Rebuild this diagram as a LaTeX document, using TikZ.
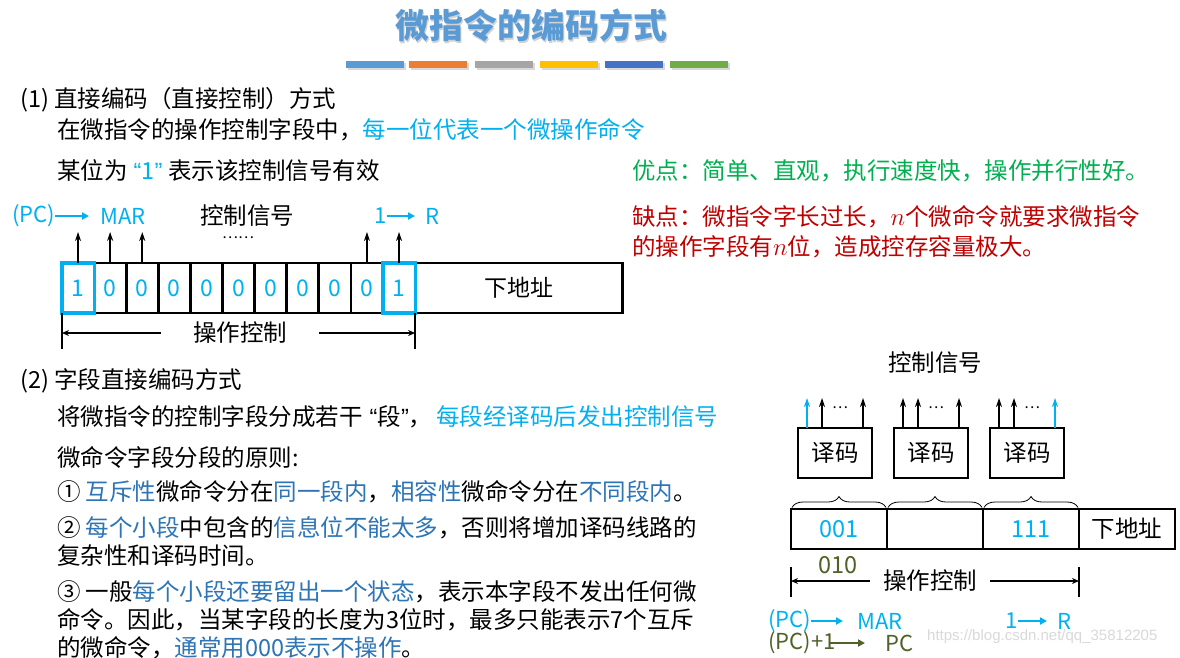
\documentclass[tikz,border=0pt]{standalone}
\usepackage{fontspec}
\setmainfont{Noto Sans CJK SC}
\newfontfamily\latinfont{Liberation Sans}
\usetikzlibrary{positioning, arrows.meta, calc, decorations.pathreplacing}
\definecolor{cyanblue}{HTML}{00B0F0}
\definecolor{deepblue}{HTML}{2E75B6}
\definecolor{titleblue}{HTML}{5B9BD5}
\definecolor{goodgreen}{HTML}{00B050}
\definecolor{badred}{HTML}{C00000}
\definecolor{olive}{HTML}{4F6228}
\definecolor{barA}{HTML}{5B9BD5}
\definecolor{barB}{HTML}{ED7D31}
\definecolor{barC}{HTML}{A5A5A5}
\definecolor{barD}{HTML}{FFC000}
\definecolor{barE}{HTML}{4472C4}
\definecolor{barF}{HTML}{70AD47}

\begin{document}
\begin{tikzpicture}[x=1pt, y=-1pt,
  txt/.style={anchor=west, inner sep=0pt, align=left, font=\fontsize{23.5}{28}\selectfont},
  lbl/.style={anchor=west, inner sep=0pt, text=cyanblue, font=\fontsize{22}{22}\selectfont},
  bit/.style={draw, line width=2.8pt, outer sep=0pt, inner sep=0pt, minimum width=32.1pt,
              minimum height=50pt, text=cyanblue, font=\fontsize{23}{23}\selectfont},
  selbox/.style={draw=cyanblue, line width=3.2pt},
  dec/.style={draw, line width=2.8pt, outer sep=0pt, minimum width=74pt, minimum height=50pt,
              font=\fontsize{23.5}{23.5}\selectfont},
  fld/.style={draw, line width=2.8pt, outer sep=0pt, inner sep=0pt, minimum width=96pt,
              minimum height=40pt, text=cyanblue, font=\fontsize{23.5}{23.5}\selectfont},
  sig/.style={-{Stealth[length=9pt, width=6pt]}, line width=1.7pt},
  carr/.style={-{Triangle[length=7pt, width=7pt]}, line width=2.6pt, color=cyanblue},
  tick/.style={line width=1.7pt},
  dimarr/.style={-{Stealth[length=7pt, width=6pt]}, line width=1.5pt},
  dimlbl/.style={inner ysep=0pt, font=\fontsize{23.5}{23.5}\selectfont},
  dotlbl/.style={inner sep=0pt, font=\fontsize{15}{15}\selectfont},
  brc/.style={decorate, decoration={brace, amplitude=11pt}, line width=0.8pt},
]
\fill[white] (0,0) rectangle (1180,657);
\useasboundingbox (0,0) rectangle (1180,657);

% Title and colour bars
\node[text=gray!35, font=\fontsize{34}{34}\selectfont\bfseries] at (532.5,27) {微指令的编码方式};
\node[text=titleblue, font=\fontsize{34}{34}\selectfont\bfseries] (title) at (531,25) {微指令的编码方式};
\foreach \x/\c in {346/barA, 409/barB, 475/barC, 540/barD, 605/barE, 670/barF} {
  \fill[gray!30] (\x+1.5,63) rectangle ++(58,7);
  \fill[\c] (\x,61) rectangle ++(58,7);
}

% (1) Direct coding
\node[txt] (h1) at (20,100) {(1) 直接编码（直接控制）方式};
\node[txt] (l1) at (57,130) {在微指令的操作控制字段中，\textcolor{cyanblue}{每一位代表一个微操作命令}};
\node[txt] (l2) at (57,171) {某位为\hspace{6pt}\textcolor{cyanblue}{{\latinfont“}1{\latinfont”}}\hspace{6pt}表示该控制信号有效};
\node[txt, text=goodgreen] (pro) at (632,171) {优点：简单、直观，执行速度快，操作并行性好。};
\node[txt, text=badred, font=\fontsize{23.5}{30}\selectfont] (con) at (632,232)
  {缺点：微指令字长过长，$n$个微命令就要求微指令\\的操作字段有$n$位，造成控存容量极大。};

% Control word, one bit per signal
\foreach \bitval [count=\i] in {1,0,0,0,0,0,0,0,0,0,1}
  \node[bit] (b\i) at ({78.05+(\i-1)*32.1},288) {\bitval};
\node[bit, minimum width=207pt, text=black, right=0pt of b11] (addr1) {下地址};
\foreach \i in {1,11}
  \draw[selbox] (b\i.south west) rectangle (b\i.north east);
\foreach \i in {1,2,3,10,11}
  \draw[sig] (b\i.north) -- ++(0,-31);

\node[lbl] (pcA) at (12,216) {(PC)};
\node[lbl] (marA) at (100,216) {MAR};
\draw[carr] (pcA.east) -- ([xshift=-11pt]marA.west);
\node[lbl] (oneA) at (374,216) {1};
\node[lbl] (rA) at (425,216) {R};
\draw[carr] (oneA.east) -- ([xshift=-10pt]rA.west);
\node[lbl, text=black, font=\fontsize{23.5}{23.5}\selectfont] (sigA) at (200,216) {控制信号};
\node[dotlbl, anchor=west] (dotsA) at (222,238) {……};

\draw[tick] (b1.south west) -- ++(0,36);
\draw[tick] (b11.south east) -- ++(0,36);
\node[dimlbl, inner xsep=32pt] (opA) at (240,333) {操作控制};
\draw[dimarr] (opA.west) -- (b1.south west |- opA.west);
\draw[dimarr] (opA.east) -- (b11.south east |- opA.east);

% (2) Field direct coding
\node[txt] (h2) at (20,381) {(2) 字段直接编码方式};
\node[txt] (s1) at (57,417) {将微指令的控制字段分成若干\hspace{7pt}{\latinfont“}段{\latinfont”}，\hspace{4pt}\textcolor{cyanblue}{每段经译码后发出控制信号}};
\node[txt] (s2) at (57,457) {微命令字段分段的原则:};
\node[txt] (r1) at (57,492) {① \textcolor{deepblue}{互斥性}微命令分在\textcolor{deepblue}{同一段内}，\textcolor{deepblue}{相容性}微命令分在\textcolor{deepblue}{不同段内}。};
\node[txt] (r2) at (57,541) {② \textcolor{deepblue}{每个小段}中包含的\textcolor{deepblue}{信息位不能太多}，否则将增加译码线路的\\复杂性和译码时间。};
\node[txt] (r3) at (57,620) {③ 一般\textcolor{deepblue}{每个小段还要留出一个状态}，表示本字段不发出任何微\\命令。因此，当某字段的长度为3位时，最多只能表示7个互斥\\的微命令，\textcolor{deepblue}{通常用000表示不操作}。};

% Decoders
\node[dimlbl] (sigB) at (935,363) {控制信号};
\node[dec] (d1) at (835,453) {译码};
\node[dec] (d2) at (931,453) {译码};
\node[dec] (d3) at (1027,453) {译码};
\foreach \k/\dx/\c in {1/-28/cyanblue, 1/-13/black, 1/28/black, 2/-28/black, 2/-13/black,
                       2/28/black, 3/-28/black, 3/-13/black, 3/28/cyanblue}
  \draw[sig, color=\c] ([xshift=\dx pt]d\k.north) -- ++(0,-30);
\foreach \k in {1,2,3}
  \node[dotlbl] (dt\k) at ($(d\k.north)+(5,-20)$) {…};

% Segmented control word
\node[fld] (f1) at (839,529) {001};
\node[fld, right=0pt of f1] (f2) {};
\node[fld, right=0pt of f2] (f3) {111};
\node[fld, right=0pt of f3, text=black] (f4) {下地址};
\foreach \k in {1,2,3}
  \draw[brc] ([xshift=1pt, yshift=1.5pt]f\k.north west) -- ([xshift=-1pt, yshift=1.5pt]f\k.north east);
\node[dimlbl, text=olive] (zA) at (838,565) {010};

\draw[tick] ([yshift=-18pt]f1.south west) -- ++(0,30);
\draw[tick] ([yshift=-18pt]f3.south east) -- ++(0,30);
\node[dimlbl, inner xsep=13pt] (opB) at (930,581) {操作控制};
\draw[dimarr] (opB.west) -- (f1.south west |- opB.west);
\draw[dimarr] (opB.east) -- (f3.south east |- opB.east);

\node[lbl] (pcB) at (768,621) {(PC)};
\node[lbl] (marB) at (857,621) {MAR};
\draw[carr] (pcB.east) -- ([xshift=-14pt]marB.west);
\node[lbl] (oneB) at (1005,621) {1};
\node[lbl] (rB) at (1057,621) {R};
\draw[carr] (oneB.east) -- ([xshift=-10pt]rB.west);
\node[lbl, text=olive] (incB) at (768,643) {(PC)+1};
\node[lbl, text=olive] (pcC) at (885,643) {PC};
\draw[carr, color=olive] ([xshift=-6pt]incB.east) -- ([xshift=-20pt]pcC.west);

\node[anchor=west, inner sep=0pt, text=gray!30, font=\fontsize{15}{15}\selectfont\latinfont] (wm) at (927,637) {https://blog.csdn.net/qq\_35812205};
\end{tikzpicture}
\end{document}
